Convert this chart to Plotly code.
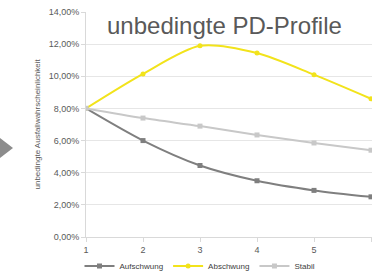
import plotly.graph_objects as go

periods = [1, 2, 3, 4, 5, 6]
aufschwung = [8.0, 6.0, 4.45, 3.5, 2.9, 2.5]
abschwung = [8.0, 10.15, 11.9, 11.45, 10.1, 8.6]
stabil = [8.0, 7.4, 6.9, 6.35, 5.85, 5.4]
y_ticks = [0, 2, 4, 6, 8, 10, 12, 14]
y_tick_labels = ["0,00%", "2,00%", "4,00%", "6,00%", "8,00%", "10,00%", "12,00%", "14,00%"]

W, H = 372, 277
ML, MR, MT, MB = 86, 0, 12, 40
plot_w = W - ML - MR
plot_h = H - MT - MB

fig = go.Figure()
series = [
    ("Aufschwung", aufschwung, "#7f7f7f", "square"),
    ("Abschwung", abschwung, "#f2e31b", "circle"),
    ("Stabil", stabil, "#c8c8c8", "square"),
]
for name, vals, col, sym in series:
    fig.add_trace(go.Scatter(
        x=periods, y=vals, name=name, mode="lines+markers",
        line=dict(color=col, width=2, shape="spline", smoothing=0.8),
        marker=dict(color=col, size=5, symbol=sym),
    ))

fig.update_layout(
    width=W, height=H,
    margin=dict(l=ML, r=MR, t=MT, b=MB, autoexpand=False),
    plot_bgcolor="white", paper_bgcolor="white",
    font=dict(family="Liberation Sans, Arial, sans-serif", color="#595959", size=9),
    showlegend=True,
    legend=dict(orientation="h", xref="container", yref="container",
                x=200 / W, xanchor="center", y=1 - 266 / H, yanchor="middle",
                font=dict(size=8, color="#404040"), itemwidth=30,
                bgcolor="rgba(0,0,0,0)"),
    xaxis=dict(range=[1, 1 + plot_w / 57.0], tickvals=periods,
               ticktext=[str(p) for p in periods],
               showgrid=False, zeroline=False, showline=True,
               linecolor="#d9d9d9", ticks="outside", ticklen=4, tickcolor="#d9d9d9",
               tickfont=dict(size=9, color="#595959"), automargin=False),
    yaxis=dict(range=[0, 14], tickvals=y_ticks, ticktext=y_tick_labels,
               showgrid=True, gridcolor="#e6e6e6", zeroline=False,
               showline=True, linecolor="#d9d9d9", ticks="outside", ticklen=4,
               tickcolor="#d9d9d9", tickfont=dict(size=9, color="#595959"),
               automargin=False),
    annotations=[
        dict(text="unbedingte PD-Profile", xref="paper", yref="paper",
             x=(224 - ML) / plot_w, y=1 - (25 - MT) / plot_h,
             xanchor="center", yanchor="middle", showarrow=False,
             font=dict(size=24, color="#595959", family="Liberation Sans, Arial, sans-serif")),
        dict(text="unbedingte Ausfallwahrscheinlichkeit", xref="paper", yref="paper",
             x=(37 - ML) / plot_w, y=0.5, textangle=-90,
             xanchor="center", yanchor="middle", showarrow=False,
             font=dict(size=8, color="#595959")),
    ],
    shapes=[
        dict(type="path", xref="paper", yref="paper",
             path="M {} {} L {} {} L {} {} Z".format(
                 (0 - ML) / plot_w, 1 - (138 - MT) / plot_h,
                 (13 - ML) / plot_w, 1 - (148 - MT) / plot_h,
                 (0 - ML) / plot_w, 1 - (158 - MT) / plot_h),
             fillcolor="#8c8c8c", line=dict(width=0)),
    ],
)

fig.write_html("out.html", config={"displayModeBar": False},
               post_script="document.body.style.margin='0';document.body.style.overflow='hidden';")
